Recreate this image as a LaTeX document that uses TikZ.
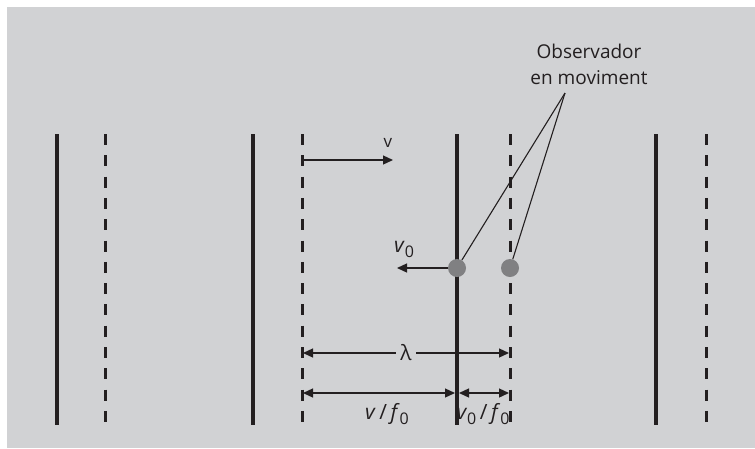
\documentclass[tikz,border=0pt]{standalone}
\usepackage{fontspec}
\setmainfont{Open Sans}
\usetikzlibrary{arrows.meta,positioning}

\definecolor{panelgrey}{RGB}{209,210,212}
\definecolor{inkblack}{RGB}{35,31,32}
\definecolor{dotgrey}{RGB}{128,128,130}

\newcommand{\subnull}{\raisebox{-0.45ex}{\fontsize{16}{16}\selectfont 0}}

\begin{document}
\begin{tikzpicture}[x=1pt, y=-1pt,
    front/.style={line width=3.2pt, draw=inkblack},
    backfront/.style={line width=3pt, draw=inkblack, dash pattern=on 11pt off 10.3pt},
    arrow/.style={-{Triangle[length=10pt,width=9pt]}, line width=1.3pt, draw=inkblack},
    dblarrow/.style={{Triangle[length=10pt,width=9pt]}-{Triangle[length=10pt,width=9pt]}, line width=1.3pt, draw=inkblack},
    observer/.style={circle, fill=dotgrey, minimum size=18pt, inner sep=0pt},
    pointer/.style={line width=1.1pt, draw=inkblack},
    lbl/.style={font=\fontsize{21}{24}\selectfont, text=inkblack, inner sep=1pt}
]

  % Frame
  \useasboundingbox (0,0) rectangle (755,448);
  \fill[panelgrey] (7,7) rectangle (755,448);

  % Wave fronts: solid and dashed
  \foreach \x in {57,253,457,656}
    \draw[front] (\x,134) -- (\x,425);
  \foreach \x in {105,302,510,706}
    \draw[backfront] (\x,134) -- (\x,422);

  % Observers
  \node[observer] (obs_a) at (457,268) {};
  \node[observer] (obs_b) at (510,268) {};

  \node[font=\fontsize{19}{26}\selectfont, text=inkblack, align=center] (obs_label) at (589,64)
    {Observador\\en moviment};
  \coordinate (obs_tip) at (565,93);
  \draw[pointer] (obs_tip) -- (obs_a);
  \draw[pointer] (obs_tip) -- (obs_b);

  % Wave speed
  \coordinate (v_start) at (303,160);
  \coordinate (v_end) at (393,160);
  \draw[arrow] (v_start) -- (v_end);
  \node[lbl, font=\fontsize{17}{20}\selectfont] (v_lbl) at (388,143) {v};

  % Observer speed
  \coordinate (vo_end) at (397,268);
  \draw[arrow] (obs_a) -- (vo_end);
  \node[lbl] (vo_lbl) at (404,249) {\textit{v}\subnull};

  % Wavelength
  \coordinate (lam_a) at (303,353);
  \coordinate (lam_b) at (509,353);
  \draw[dblarrow] (lam_a) -- node[lbl, fill=panelgrey, inner xsep=4pt] (lam_lbl) {λ} (lam_b);

  % Distances per period
  \coordinate (d_a) at (303,393);
  \coordinate (d_b) at (455,393);
  \coordinate (d_c) at (459,393);
  \coordinate (d_d) at (509,393);
  \draw[dblarrow] (d_a) -- (d_b);
  \draw[dblarrow] (d_c) -- (d_d);
  \node[lbl] (vf_lbl) at (387,414) {\textit{v}\,/\,\textit{f}\subnull};
  \node[lbl] (vof_lbl) at (483,414) {\textit{v}\subnull\,/\,\textit{f}\subnull};

\end{tikzpicture}
\end{document}
